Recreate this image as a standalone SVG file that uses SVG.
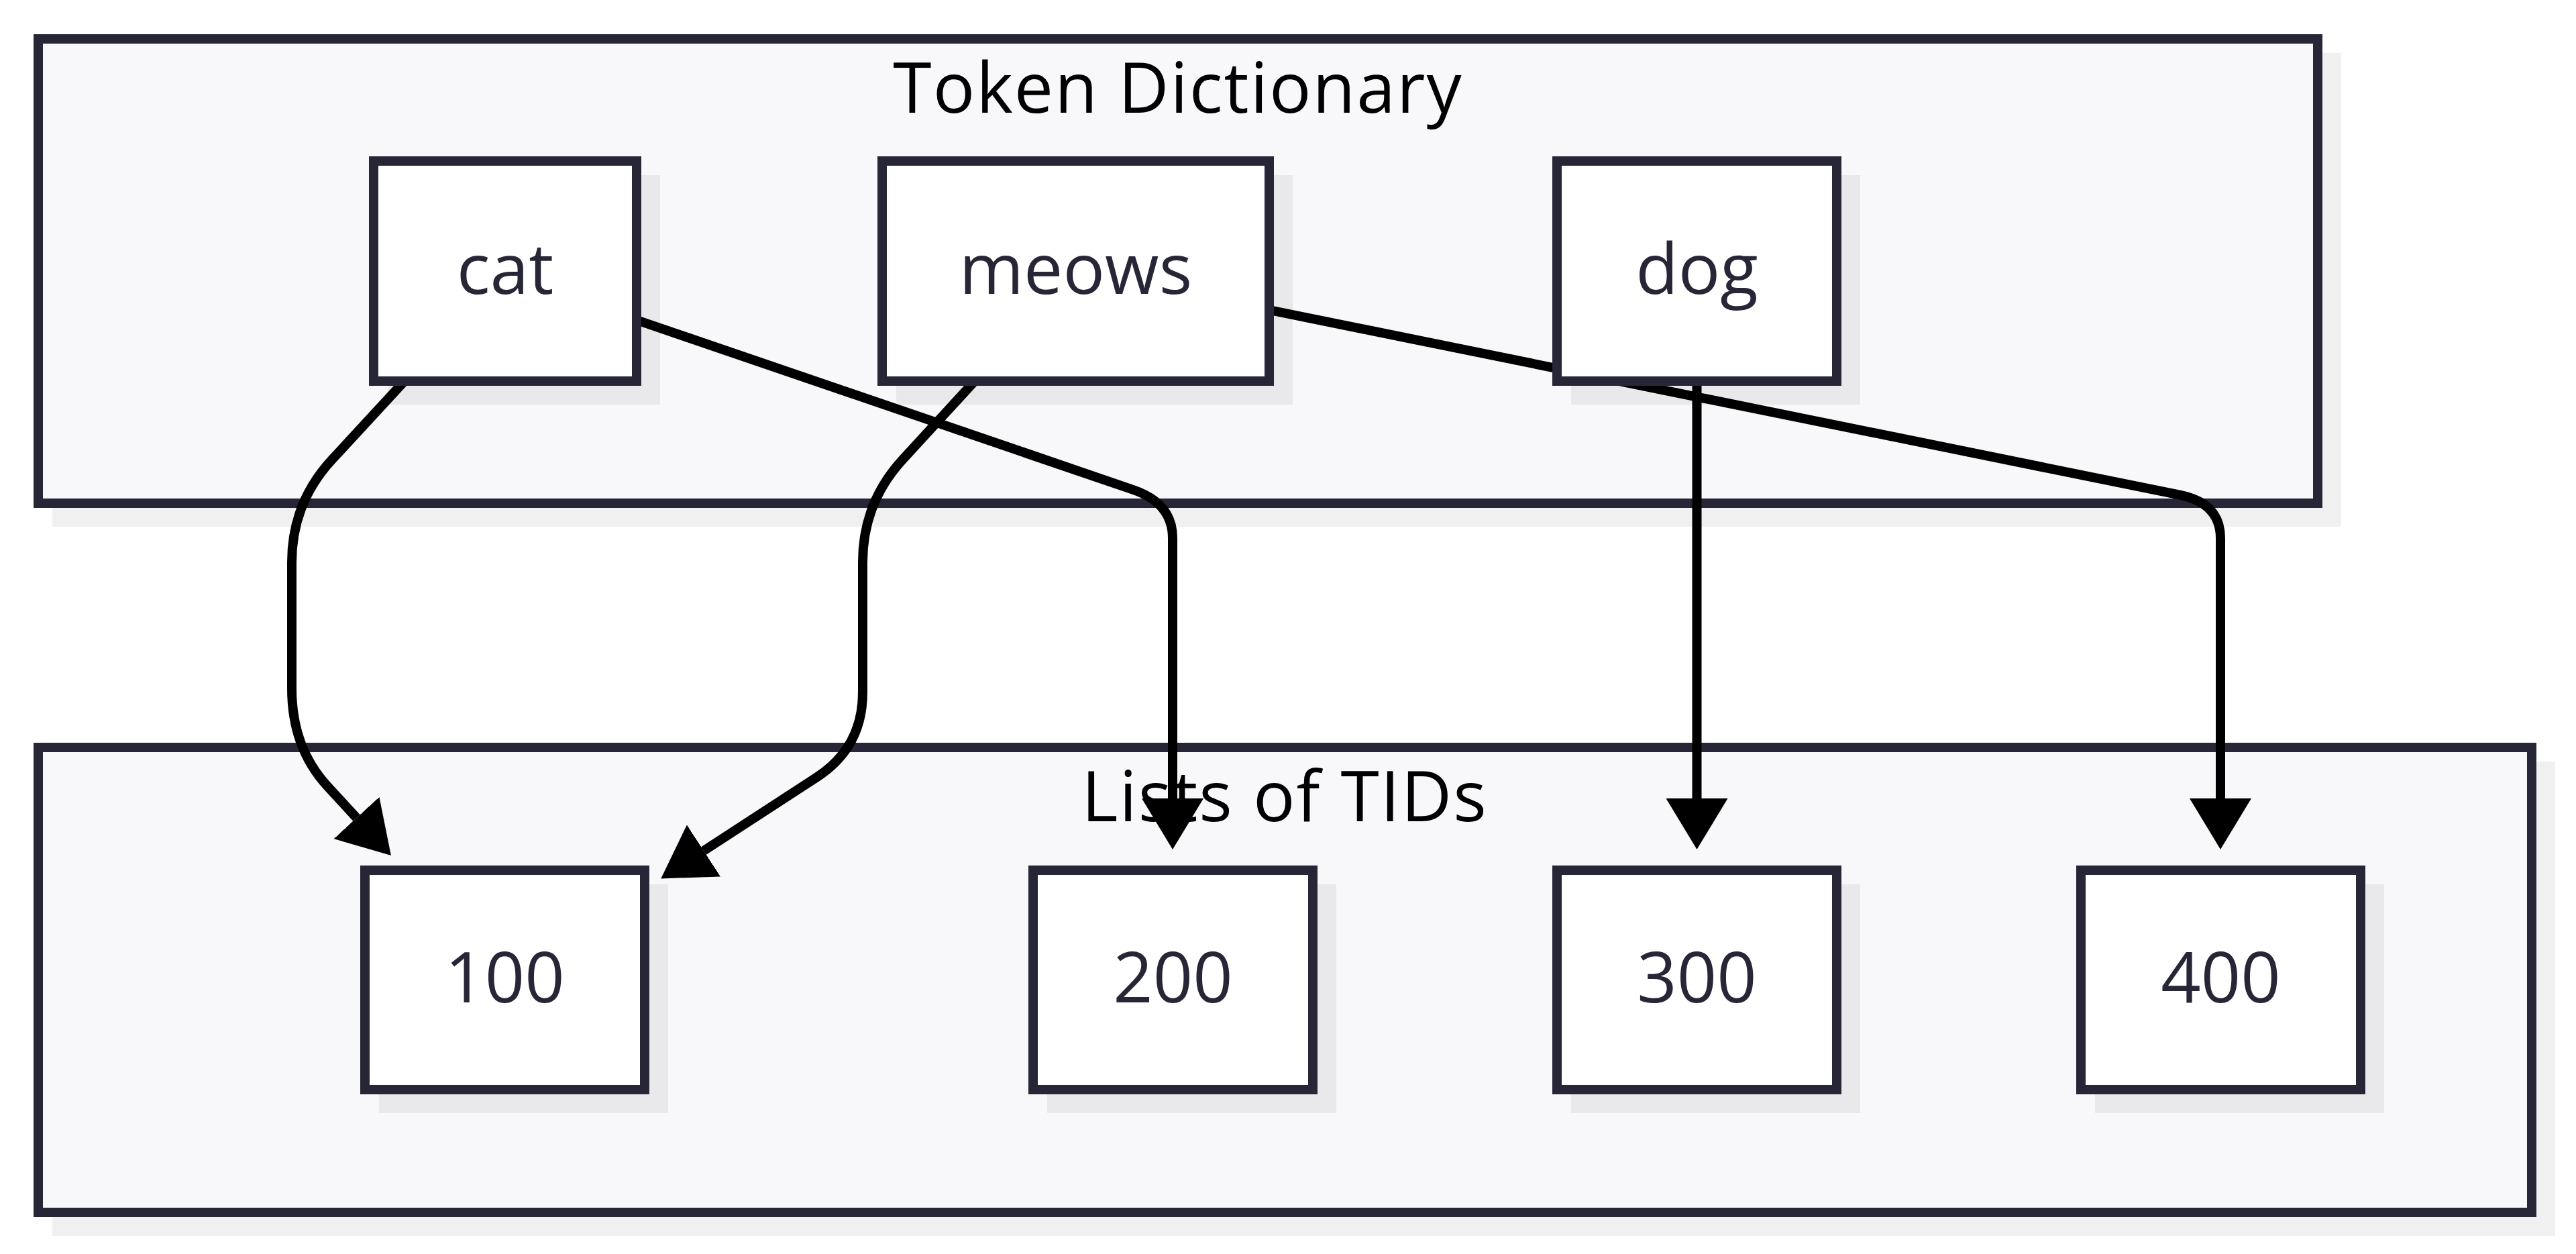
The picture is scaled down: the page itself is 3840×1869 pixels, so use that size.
<svg xmlns="http://www.w3.org/2000/svg" width="3840" height="1869" viewBox="0 0 3840 1869">
<style>
.cl{fill:#f8f8fa;stroke:#262637;stroke-width:14}
.sh{fill:#000;fill-opacity:0.06}
.nd{fill:#ffffff;stroke:#262637;stroke-width:14}
.ttl{font-family:"Open Sans","Liberation Sans",sans-serif;font-size:104px;fill:#000;text-anchor:middle;letter-spacing:2px}
.lbl{font-family:"Open Sans","Liberation Sans",sans-serif;font-size:104px;fill:#262637;text-anchor:middle}
.ed{fill:none;stroke:#000;stroke-width:14;stroke-linecap:butt;stroke-linejoin:round}
</style>
<defs>
<marker id="arrow" markerUnits="userSpaceOnUse" viewBox="0 0 76 92" refX="0" refY="46" markerWidth="76" markerHeight="92" orient="auto">
<path d="M0,0 L76,46 L0,92 Z" fill="#000"/>
</marker>
</defs>
<rect width="3840" height="1869" fill="#ffffff"/>
<g id="cluster-token-dictionary">
<rect class="sh" x="78" y="79" width="3412" height="706"/>
<rect class="cl" x="57" y="58" width="3398" height="692"/>
<text class="ttl" x="1756" y="168">Token Dictionary</text>
</g>
<g id="cluster-lists-of-tids">
<rect class="sh" x="78" y="1135" width="3731" height="707"/>
<rect class="cl" x="57" y="1114" width="3717" height="693"/>
<text class="ttl" x="1915" y="1224">Lists of TIDs</text>
</g>
<g id="edges">
<path class="ed" d="M603 568 L494.7 685.3 Q435 750 435 838 L435 1026 Q435 1114 487.8 1171.4 L531.5 1219" marker-end="url(#arrow)"/>
<path class="ed" d="M949 477 L1689.3 730 Q1748 750 1748 802 L1748 1190" marker-end="url(#arrow)"/>
<path class="ed" d="M1453 568 L1345.5 685.1 Q1286 750 1286 838 L1286 1032 Q1286 1114 1217.2 1158.7 L1049 1268" marker-end="url(#arrow)"/>
<path class="ed" d="M1892 462 L3249.2 737.7 Q3310 750 3310 802 L3310 1190" marker-end="url(#arrow)"/>
<path class="ed" d="M2529.5 568 L2529.5 1190" marker-end="url(#arrow)"/>
</g>
<g id="node-cat">
<rect class="sh" x="578" y="261" width="406" height="342"/>
<rect class="nd" x="557" y="240" width="392" height="328"/>
<text class="lbl" x="753" y="438">cat</text>
</g>
<g id="node-meows">
<rect class="sh" x="1336" y="261" width="591" height="342"/>
<rect class="nd" x="1315" y="240" width="577" height="328"/>
<text class="lbl" x="1603.5" y="438">meows</text>
</g>
<g id="node-dog">
<rect class="sh" x="2342" y="261" width="431" height="342"/>
<rect class="nd" x="2321" y="240" width="417" height="328"/>
<text class="lbl" x="2529.5" y="438">dog</text>
</g>
<g id="node-100">
<rect class="sh" x="565" y="1318" width="431" height="341"/>
<rect class="nd" x="544" y="1297" width="417" height="327"/>
<text class="lbl" x="752.5" y="1494">100</text>
</g>
<g id="node-200">
<rect class="sh" x="1561" y="1318" width="431" height="341"/>
<rect class="nd" x="1540" y="1297" width="417" height="327"/>
<text class="lbl" x="1748.5" y="1494">200</text>
</g>
<g id="node-300">
<rect class="sh" x="2342" y="1318" width="431" height="341"/>
<rect class="nd" x="2321" y="1297" width="417" height="327"/>
<text class="lbl" x="2529.5" y="1494">300</text>
</g>
<g id="node-400">
<rect class="sh" x="3123" y="1318" width="431" height="341"/>
<rect class="nd" x="3102" y="1297" width="417" height="327"/>
<text class="lbl" x="3310.5" y="1494">400</text>
</g>
</svg>
